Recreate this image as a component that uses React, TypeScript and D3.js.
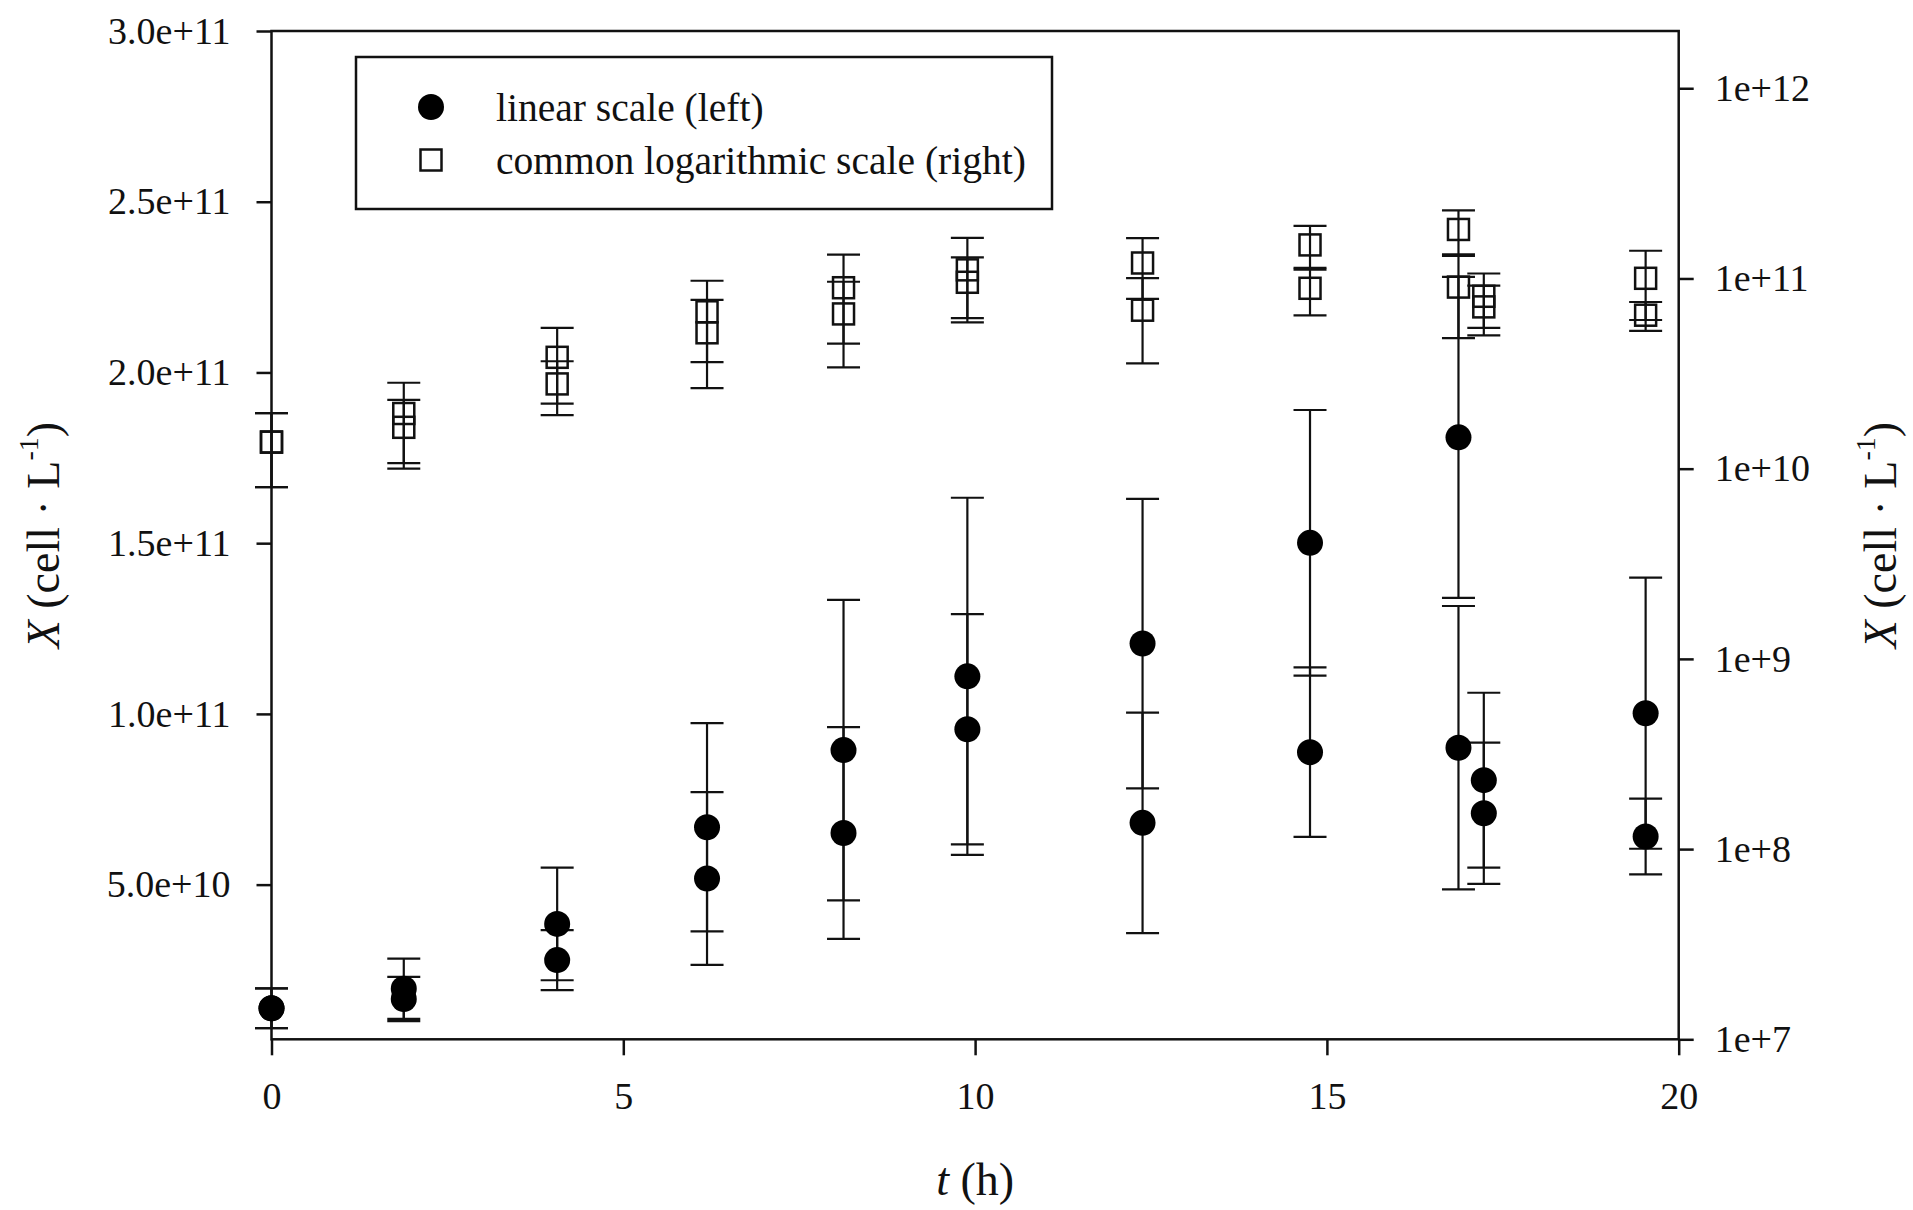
import React, { useEffect, useRef } from "react";
import * as d3 from "d3";

// sampling times (h)
const times = [0, 1.88, 4.06, 6.19, 8.13, 9.89, 12.38, 14.76, 16.87, 17.23, 19.53];

// two replicate cultures, cell density (cell/L) and SD
const replicateA = [1.38e10, 1.95e10, 3.85e10, 6.68e10, 8.94e10, 11.1e10, 12.06e10, 15.01e10, 18.1e10, 8.06e10, 10.02e10];
const sdA = [0.58e10, 0.88e10, 1.65e10, 3.05e10, 4.4e10, 5.23e10, 4.24e10, 3.89e10, 4.7e10, 2.56e10, 3.97e10];
const replicateB = [1.38e10, 1.65e10, 2.79e10, 5.18e10, 6.51e10, 9.55e10, 6.81e10, 8.88e10, 9.01e10, 7.09e10, 6.41e10];
const sdB = [0.58e10, 0.65e10, 0.88e10, 2.53e10, 3.1e10, 3.37e10, 3.23e10, 2.48e10, 4.15e10, 2.07e10, 1.11e10];

const xTicks = [0, 5, 10, 15, 20];
const leftTicks = [5e10, 1e11, 1.5e11, 2e11, 2.5e11, 3e11];
const leftTickLabels = ["5.0e+10", "1.0e+11", "1.5e+11", "2.0e+11", "2.5e+11", "3.0e+11"];
const rightTicks = [1e7, 1e8, 1e9, 1e10, 1e11, 1e12];
const rightTickLabels = ["1e+7", "1e+8", "1e+9", "1e+10", "1e+11", "1e+12"];

const legendLabels = ["linear scale (left)", "common logarithmic scale (right)"];

const FONT = "'Liberation Serif', 'Times New Roman', serif";

const App = () => {
  const svgRef = useRef<SVGSVGElement>(null);

  useEffect(() => {
    const width = 1913;
    const height = 1210;
    const left = 271.5;
    const right = 1678.7;
    const top = 31;
    const bottom = 1039.3;

    const svg = d3.select(svgRef.current);
    svg.selectAll("*").remove();
    svg.attr("width", width).attr("height", height);

    svg.append("rect").attr("width", width).attr("height", height).attr("fill", "white");

    const x = d3.scaleLinear().domain([0, 20]).range([left, right]);
    const yLin = d3.scaleLinear().domain([4.7e9, 3e11]).range([bottom, top]);
    const yLog = d3.scaleLog().domain([1e7, 2e12]).range([bottom, top]);

    const styleAxis = (g) => {
      g.select(".domain").remove();
      g.selectAll("line").attr("stroke", "#111").attr("stroke-width", 2.5);
      g.selectAll("text")
        .attr("fill", "#111")
        .attr("font-family", FONT)
        .attr("font-size", 38);
    };

    // x axis
    svg
      .append("g")
      .attr("transform", `translate(0, ${bottom})`)
      .call(
        d3.axisBottom(x).tickValues(xTicks).tickFormat(d3.format("d")).tickSize(16).tickPadding(27)
      )
      .call(styleAxis);

    // left linear axis
    svg
      .append("g")
      .attr("transform", `translate(${left}, 0)`)
      .call(
        d3
          .axisLeft(yLin)
          .tickValues(leftTicks)
          .tickFormat((d, i) => leftTickLabels[i])
          .tickSize(15)
          .tickPadding(26)
      )
      .call(styleAxis);

    // right log axis
    svg
      .append("g")
      .attr("transform", `translate(${right}, 0)`)
      .call(
        d3
          .axisRight(yLog)
          .tickValues(rightTicks)
          .tickFormat((d, i) => rightTickLabels[i])
          .tickSize(15)
          .tickPadding(21)
      )
      .call(styleAxis);

    // frame
    svg
      .append("rect")
      .attr("x", left)
      .attr("y", top)
      .attr("width", right - left)
      .attr("height", bottom - top)
      .attr("fill", "none")
      .attr("stroke", "#111")
      .attr("stroke-width", 2.5);

    const points = [];
    times.forEach((t, i) => {
      points.push({ t, v: replicateA[i], sd: sdA[i] });
      points.push({ t, v: replicateB[i], sd: sdB[i] });
    });

    const cap = 16.5;
    const drawBars = (scale) => {
      const g = svg.append("g").attr("stroke", "#111").attr("stroke-width", 2.2);
      points.forEach((p) => {
        const cx = x(p.t);
        const y1 = scale(p.v - p.sd);
        const y2 = scale(p.v + p.sd);
        g.append("line").attr("x1", cx).attr("x2", cx).attr("y1", y1).attr("y2", y2);
        g.append("line").attr("x1", cx - cap).attr("x2", cx + cap).attr("y1", y1).attr("y2", y1);
        g.append("line").attr("x1", cx - cap).attr("x2", cx + cap).attr("y1", y2).attr("y2", y2);
      });
    };

    // log scale (right): hollow squares
    drawBars(yLog);
    const side = 21;
    svg
      .append("g")
      .selectAll("rect")
      .data(points)
      .join("rect")
      .attr("x", (d) => x(d.t) - side / 2)
      .attr("y", (d) => yLog(d.v) - side / 2)
      .attr("width", side)
      .attr("height", side)
      .attr("fill", "none")
      .attr("stroke", "#111")
      .attr("stroke-width", 2.5);

    // linear scale (left): filled circles
    drawBars(yLin);
    svg
      .append("g")
      .selectAll("circle")
      .data(points)
      .join("circle")
      .attr("cx", (d) => x(d.t))
      .attr("cy", (d) => yLin(d.v))
      .attr("r", 13)
      .attr("fill", "#000");

    // legend
    const lg = svg.append("g");
    lg.append("rect")
      .attr("x", 356)
      .attr("y", 57)
      .attr("width", 696)
      .attr("height", 152)
      .attr("fill", "white")
      .attr("stroke", "#111")
      .attr("stroke-width", 2.5);
    lg.append("circle").attr("cx", 431).attr("cy", 107).attr("r", 13).attr("fill", "#000");
    lg.append("rect")
      .attr("x", 431 - side / 2)
      .attr("y", 160 - side / 2)
      .attr("width", side)
      .attr("height", side)
      .attr("fill", "none")
      .attr("stroke", "#111")
      .attr("stroke-width", 2.5);
    legendLabels.forEach((label, i) => {
      lg.append("text")
        .attr("x", 496)
        .attr("y", 107 + i * 53)
        .attr("dy", "0.35em")
        .attr("font-family", FONT)
        .attr("font-size", 39.5)
        .attr("fill", "#111")
        .text(label);
    });

    // axis titles
    svg
      .append("text")
      .attr("x", (left + right) / 2)
      .attr("y", 1195)
      .attr("text-anchor", "middle")
      .attr("font-family", FONT)
      .attr("font-size", 46)
      .attr("fill", "#111")
      .call((t) => {
        t.append("tspan").attr("font-style", "italic").text("t");
        t.append("tspan").text(" (h)");
      });

    const yTitle = (cx) => {
      const t = svg
        .append("text")
        .attr("transform", `translate(${cx}, ${(top + bottom) / 2}) rotate(-90)`)
        .attr("text-anchor", "middle")
        .attr("dy", "0.35em")
        .attr("font-family", FONT)
        .attr("font-size", 46)
        .attr("fill", "#111");
      t.append("tspan").attr("font-style", "italic").text("X");
      t.append("tspan").text(" (cell \u00B7 L");
      t.append("tspan").attr("font-size", 28).attr("dy", "-0.75em").text("-1");
      t.append("tspan").attr("dy", "0.45em").text(")");
    };
    yTitle(43);
    yTitle(1880);
  }, []);

  return (
    <div style={{ position: "absolute", left: 0, top: 0 }}>
      <svg ref={svgRef}></svg>
    </div>
  );
};

export default App;
